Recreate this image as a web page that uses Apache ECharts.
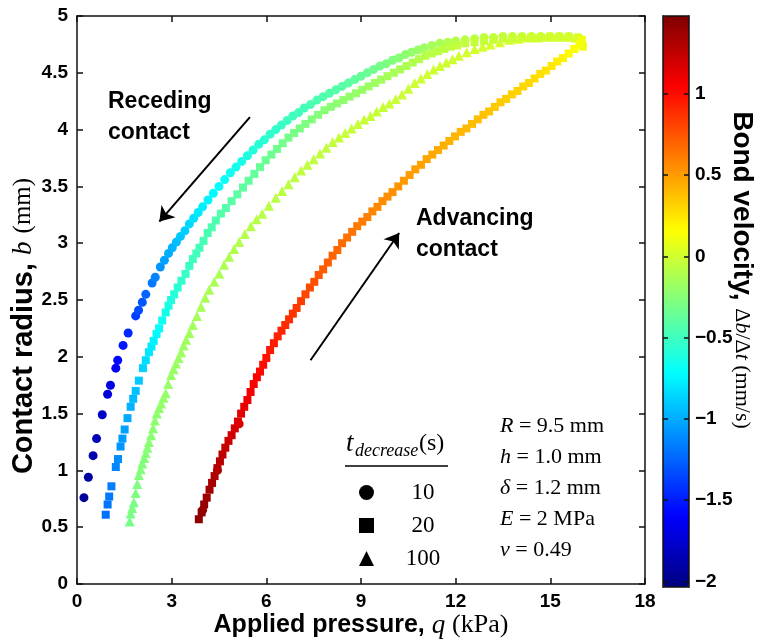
<!DOCTYPE html>
<html>
<head>
<meta charset="utf-8">
<title>Contact radius vs applied pressure</title>
<script src="https://cdn.jsdelivr.net/npm/echarts@6/dist/echarts.min.js"></script>
<style>
  html, body { margin: 0; padding: 0; background: #fff; }
  #chart { width: 762px; height: 644px; }
</style>
</head>
<body>
<div id="chart"></div>
<script>
// each point: [applied pressure q (kPa), contact radius b (mm), bond velocity (mm/s)]
const rec10 = [
  [0.22,0.76,-1.95],[0.36,0.94,-1.92],[0.51,1.13,-1.88],[0.62,1.28,-1.84],[0.80,1.49,-1.78],
  [0.97,1.67,-1.72],[1.06,1.75,-1.68],[1.23,1.90,-1.62],[1.29,1.97,-1.58],[1.46,2.10,-1.52],
  [1.62,2.21,-1.46],[1.86,2.36,-1.38],[1.95,2.41,-1.34],[2.07,2.48,-1.30],[2.18,2.55,-1.25],
  [2.38,2.65,-1.18],[2.48,2.70,-1.14],[2.64,2.79,-1.08],[2.77,2.85,-1.04],[2.90,2.91,-1.00],
  [3.02,2.96,-0.97],[3.15,3.01,-0.94],[3.28,3.06,-0.91],[3.42,3.11,-0.88],[3.56,3.17,-0.85],
  [3.70,3.22,-0.82],[3.84,3.27,-0.79],[3.98,3.32,-0.77],[4.15,3.38,-0.75],[4.32,3.44,-0.73],
  [4.50,3.50,-0.71],[4.68,3.56,-0.69],[4.86,3.62,-0.67],[5.04,3.67,-0.65],[5.22,3.72,-0.63],
  [5.40,3.77,-0.61],[5.58,3.82,-0.60],[5.76,3.87,-0.58],[5.94,3.91,-0.57],[6.12,3.96,-0.55],
  [6.30,4.00,-0.54],[6.48,4.04,-0.52],[6.66,4.08,-0.51],[6.84,4.12,-0.50],[7.02,4.15,-0.49],
  [7.20,4.19,-0.48],[7.40,4.22,-0.46],[7.60,4.26,-0.45],[7.80,4.29,-0.44],[8.00,4.32,-0.43],
  [8.20,4.35,-0.42],[8.40,4.38,-0.41],[8.60,4.41,-0.40],[8.80,4.44,-0.38],[9.00,4.47,-0.37],
  [9.20,4.50,-0.35],[9.40,4.53,-0.33],[9.60,4.56,-0.31],[9.80,4.58,-0.29],[10.00,4.61,-0.27],
  [10.20,4.63,-0.25],[10.40,4.66,-0.23],[10.60,4.68,-0.21],[10.80,4.70,-0.19],[11.00,4.72,-0.17],
  [11.25,4.74,-0.15],[11.50,4.76,-0.13],[11.75,4.77,-0.11],[12.00,4.78,-0.10],[12.30,4.79,-0.08],
  [12.60,4.80,-0.07],[12.90,4.81,-0.06],[13.20,4.81,-0.05],[13.50,4.82,-0.04],[13.80,4.82,-0.03],
  [14.10,4.82,-0.03],[14.40,4.82,-0.02],[14.70,4.82,-0.02],[15.00,4.82,-0.01],[15.30,4.82,-0.01],
  [15.60,4.82,0.00],[15.90,4.81,0.02]
];
const adv10 = [[3.98,0.65,1.42],[4.45,1.00,1.31],[5.14,1.41,1.17]];

const rec20 = [
  [0.91,0.61,-1.20],[0.97,0.70,-1.19],[1.02,0.77,-1.18],[1.09,0.86,-1.16],[1.23,1.03,-1.13],
  [1.30,1.10,-1.11],[1.38,1.21,-1.08],[1.44,1.28,-1.06],[1.51,1.36,-1.04],[1.60,1.46,-1.01],
  [1.70,1.56,-0.98],[1.78,1.63,-0.95],[1.86,1.70,-0.93],[1.96,1.79,-0.90],[2.09,1.90,-0.86],
  [2.18,1.97,-0.83],[2.28,2.04,-0.80],[2.36,2.09,-0.78],[2.43,2.14,-0.76],[2.52,2.20,-0.73],
  [2.60,2.25,-0.71],[2.70,2.32,-0.68],[2.81,2.39,-0.65],[2.90,2.45,-0.63],[2.98,2.50,-0.61],
  [3.08,2.55,-0.59],[3.19,2.61,-0.57],[3.31,2.67,-0.55],[3.44,2.73,-0.53],[3.56,2.80,-0.52],
  [3.67,2.86,-0.50],[3.78,2.91,-0.49],[3.88,2.96,-0.48],[4.01,3.02,-0.47],[4.14,3.09,-0.46],
  [4.27,3.14,-0.45],[4.40,3.20,-0.44],[4.56,3.26,-0.43],[4.72,3.31,-0.42],[4.90,3.37,-0.41],
  [5.08,3.43,-0.40],[5.26,3.49,-0.39],[5.44,3.55,-0.38],[5.62,3.61,-0.37],[5.80,3.67,-0.36],
  [5.98,3.73,-0.35],[6.16,3.78,-0.34],[6.34,3.83,-0.33],[6.52,3.88,-0.32],[6.70,3.93,-0.31],
  [6.88,3.97,-0.30],[7.06,4.01,-0.29],[7.24,4.05,-0.28],[7.44,4.09,-0.27],[7.64,4.13,-0.26],
  [7.84,4.17,-0.25],[8.04,4.20,-0.24],[8.24,4.23,-0.23],[8.44,4.26,-0.22],[8.64,4.29,-0.21],
  [8.84,4.32,-0.20],[9.04,4.35,-0.19],[9.24,4.38,-0.18],[9.44,4.41,-0.17],[9.64,4.44,-0.16],
  [9.84,4.47,-0.15],[10.04,4.50,-0.14],[10.24,4.53,-0.13],[10.44,4.56,-0.12],[10.64,4.59,-0.11],
  [10.84,4.62,-0.10],[11.04,4.65,-0.09],[11.24,4.67,-0.08],[11.44,4.69,-0.07],[11.64,4.71,-0.07],
  [11.84,4.73,-0.06],[12.04,4.74,-0.05],[12.30,4.76,-0.05],[12.60,4.77,-0.04],[12.90,4.78,-0.04],
  [13.20,4.79,-0.03],[13.50,4.80,-0.03],[13.80,4.80,-0.02],[14.10,4.81,-0.02],[14.40,4.81,-0.01],
  [14.70,4.81,-0.01],[15.00,4.81,0.00],[15.30,4.81,0.00],[15.60,4.81,0.01],[15.90,4.80,0.02]
];
const adv20 = [
  [3.86,0.57,1.43],[3.95,0.63,1.42],[4.03,0.70,1.40],[4.11,0.76,1.38],[4.20,0.83,1.36],
  [4.28,0.89,1.34],[4.36,0.95,1.32],[4.45,1.02,1.30],[4.53,1.08,1.28],[4.61,1.14,1.26],
  [4.70,1.20,1.24],[4.80,1.26,1.22],[4.90,1.31,1.20],[5.00,1.37,1.18],[5.10,1.43,1.16],
  [5.20,1.50,1.14],[5.30,1.56,1.12],[5.40,1.62,1.10],[5.50,1.69,1.08],[5.60,1.76,1.06],
  [5.70,1.82,1.04],[5.80,1.87,1.02],[5.90,1.93,1.00],[6.00,1.99,0.98],[6.12,2.06,0.96],
  [6.24,2.12,0.95],[6.36,2.18,0.93],[6.48,2.23,0.92],[6.60,2.28,0.90],[6.72,2.33,0.88],
  [6.84,2.38,0.87],[6.96,2.43,0.85],[7.10,2.49,0.83],[7.24,2.55,0.81],[7.38,2.61,0.79],
  [7.52,2.66,0.77],[7.66,2.72,0.75],[7.80,2.77,0.73],[7.95,2.83,0.72],[8.10,2.89,0.70],
  [8.25,2.94,0.68],[8.40,3.00,0.67],[8.56,3.05,0.65],[8.72,3.10,0.64],[8.88,3.15,0.62],
  [9.04,3.19,0.61],[9.20,3.23,0.60],[9.36,3.28,0.58],[9.52,3.32,0.57],[9.68,3.37,0.56],
  [9.84,3.41,0.55],[10.00,3.45,0.54],[10.18,3.50,0.53],[10.36,3.55,0.51],[10.54,3.60,0.50],
  [10.72,3.65,0.49],[10.90,3.69,0.48],[11.08,3.74,0.47],[11.26,3.78,0.46],[11.44,3.82,0.45],
  [11.62,3.86,0.44],[11.80,3.90,0.43],[11.98,3.94,0.42],[12.16,3.98,0.41],[12.34,4.01,0.40],
  [12.52,4.05,0.39],[12.70,4.09,0.38],[12.88,4.13,0.37],[13.06,4.16,0.36],[13.24,4.20,0.35],
  [13.42,4.24,0.34],[13.60,4.27,0.33],[13.78,4.31,0.32],[13.96,4.34,0.31],[14.14,4.38,0.30],
  [14.32,4.41,0.29],[14.50,4.45,0.28],[14.68,4.49,0.27],[14.86,4.52,0.26],[15.04,4.56,0.24],
  [15.22,4.60,0.22],[15.40,4.63,0.20],[15.58,4.67,0.18],[15.76,4.71,0.16],[15.92,4.75,0.14],
  [16.03,4.73,0.11],[16.00,4.79,0.12]
];

const rec100 = [
  [1.67,0.55,-0.30],[1.70,0.62,-0.30],[1.75,0.67,-0.29],[1.80,0.72,-0.29],[1.86,0.80,-0.28],
  [1.91,0.88,-0.28],[1.96,0.96,-0.27],[2.02,1.01,-0.27],[2.07,1.06,-0.26],[2.13,1.11,-0.26],
  [2.18,1.15,-0.25],[2.23,1.20,-0.25],[2.28,1.25,-0.24],[2.35,1.31,-0.24],[2.41,1.37,-0.23],
  [2.47,1.44,-0.23],[2.53,1.50,-0.22],[2.60,1.55,-0.22],[2.67,1.59,-0.21],[2.74,1.64,-0.21],
  [2.81,1.68,-0.20],[2.89,1.76,-0.20],[2.98,1.84,-0.19],[3.06,1.89,-0.19],[3.14,1.94,-0.18],
  [3.22,1.99,-0.18],[3.30,2.04,-0.17],[3.38,2.10,-0.17],[3.46,2.15,-0.16],[3.56,2.21,-0.16],
  [3.67,2.28,-0.15],[3.80,2.36,-0.15],[3.93,2.44,-0.14],[4.06,2.52,-0.14],[4.19,2.59,-0.13],
  [4.35,2.66,-0.13],[4.51,2.73,-0.12],[4.66,2.81,-0.12],[4.82,2.88,-0.11],[4.98,2.95,-0.11],
  [5.14,3.01,-0.10],[5.32,3.08,-0.10],[5.51,3.15,-0.09],[5.69,3.21,-0.09],[5.87,3.26,-0.08],
  [6.08,3.33,-0.08],[6.30,3.40,-0.08],[6.50,3.46,-0.07],[6.70,3.52,-0.07],[6.90,3.58,-0.07],
  [7.10,3.64,-0.06],[7.30,3.69,-0.06],[7.50,3.74,-0.06],[7.70,3.79,-0.05],[7.90,3.84,-0.05],
  [8.10,3.89,-0.05],[8.30,3.93,-0.04],[8.50,3.97,-0.04],[8.70,4.01,-0.04],[8.90,4.05,-0.04],
  [9.10,4.09,-0.03],[9.30,4.12,-0.03],[9.50,4.16,-0.03],[9.70,4.20,-0.03],[9.90,4.23,-0.02],
  [10.10,4.27,-0.02],[10.30,4.31,-0.02],[10.50,4.36,-0.02],[10.70,4.41,-0.01],[10.90,4.45,-0.01],
  [11.10,4.49,-0.01],[11.30,4.53,-0.01],[11.50,4.56,0.00],[11.70,4.59,0.00],[11.90,4.62,0.00],
  [12.10,4.65,0.00],[12.35,4.68,0.01],[12.60,4.71,0.01],[12.85,4.73,0.01],[13.10,4.75,0.02],
  [13.40,4.77,0.02],[13.70,4.79,0.02],[14.00,4.80,0.03],[14.30,4.81,0.03],[14.60,4.81,0.03],
  [14.90,4.82,0.04],[15.20,4.82,0.04],[15.50,4.82,0.05],[15.80,4.81,0.05],[16.00,4.80,0.06]
];

const xTicks = [0, 3, 6, 9, 12, 15, 18];
const yTicks = [0, 0.5, 1, 1.5, 2, 2.5, 3, 3.5, 4, 4.5, 5];
const cbTicks = [-2, -1.5, -1, -0.5, 0, 0.5, 1];
const cbRange = [-2.035, 1.48];
const legendNames = ['10', '20', '100'];
const recedingArrow = [[5.48, 4.11], [2.61, 3.19]];
const advancingArrow = [[7.40, 1.97], [10.21, 3.09]];
const paramLines = [
  '{i|R} = 9.5 mm',
  '{i|h} = 1.0 mm',
  '{i|δ} = 1.2 mm',
  '{i|E} = 2 MPa',
  '{i|ν} = 0.49'
];

const jet = ['#00007f', '#0000ff', '#007fff', '#00ffff', '#7fff7f', '#ffff00', '#ff7f00', '#ff0000', '#7f0000'];
const SANS = 'Liberation Sans';
const SERIF = 'Liberation Serif';
const AX = { onZero: false, lineStyle: { color: '#111', width: 1.5 } };

const chart = echarts.init(document.getElementById('chart'));

const option = {
  animation: false,
  backgroundColor: '#fff',
  grid: [
    { left: 77, right: 117, top: 16, bottom: 60, containLabel: false, outerBoundsMode: 'none' },
    { left: 663, top: 16, width: 26, height: 571, containLabel: false, outerBoundsMode: 'none' }
  ],
  xAxis: [
    {
      gridIndex: 0, type: 'value', position: 'bottom',
      min: xTicks[0], max: xTicks[xTicks.length - 1], interval: xTicks[1] - xTicks[0],
      axisLine: AX, splitLine: { show: false },
      axisTick: { inside: true, length: 6, lineStyle: { color: '#111', width: 1.5 } },
      axisLabel: { fontFamily: SANS, fontWeight: 'bold', fontSize: 19, color: '#000', margin: 8 },
      name: 'Applied pressure, {i|q} {r|(kPa)}',
      nameLocation: 'middle', nameGap: 28, nameMoveOverlap: false,
      nameTextStyle: {
        fontFamily: SANS, fontWeight: 'bold', fontSize: 25, color: '#000',
        rich: {
          i: { fontFamily: SERIF, fontStyle: 'italic', fontWeight: 'normal', fontSize: 27, color: '#000' },
          r: { fontFamily: SERIF, fontWeight: 'normal', fontSize: 26, color: '#000' }
        }
      }
    },
    {
      gridIndex: 0, type: 'value', position: 'top',
      min: xTicks[0], max: xTicks[xTicks.length - 1], interval: xTicks[1] - xTicks[0],
      axisLine: AX, splitLine: { show: false },
      axisTick: { inside: true, length: 6, lineStyle: { color: '#111', width: 1.5 } },
      axisLabel: { show: false }
    },
    {
      gridIndex: 1, type: 'value', position: 'bottom', min: 0, max: 1, z: 10,
      axisLine: AX, axisTick: { show: false }, axisLabel: { show: false }, splitLine: { show: false }
    },
    {
      gridIndex: 1, type: 'value', position: 'top', min: 0, max: 1, z: 10,
      axisLine: AX, axisTick: { show: false }, axisLabel: { show: false }, splitLine: { show: false }
    }
  ],
  yAxis: [
    {
      gridIndex: 0, type: 'value', position: 'left',
      min: yTicks[0], max: yTicks[yTicks.length - 1], interval: yTicks[1] - yTicks[0],
      axisLine: AX, splitLine: { show: false },
      axisTick: { inside: true, length: 6, lineStyle: { color: '#111', width: 1.5 } },
      axisLabel: { fontFamily: SANS, fontWeight: 'bold', fontSize: 19, color: '#000', margin: 9 },
      name: 'Contact radius, {i|b} {r|(mm)}',
      nameLocation: 'middle', nameGap: 39, nameRotate: 90, nameMoveOverlap: false,
      nameTextStyle: {
        fontFamily: SANS, fontWeight: 'bold', fontSize: 29, color: '#000',
        padding: [0, 52, 0, 0],
        rich: {
          i: { fontFamily: SERIF, fontStyle: 'italic', fontWeight: 'normal', fontSize: 27, color: '#000' },
          r: { fontFamily: SERIF, fontWeight: 'normal', fontSize: 25, color: '#000' }
        }
      }
    },
    {
      gridIndex: 0, type: 'value', position: 'right',
      min: yTicks[0], max: yTicks[yTicks.length - 1], interval: yTicks[1] - yTicks[0],
      axisLine: AX, splitLine: { show: false },
      axisTick: { inside: true, length: 6, lineStyle: { color: '#111', width: 1.5 } },
      axisLabel: { show: false }
    },
    {
      gridIndex: 1, type: 'value', position: 'right', min: cbRange[0], max: cbRange[1], z: 10,
      axisLine: AX, splitLine: { show: false },
      axisTick: { inside: true, length: 5, customValues: cbTicks, lineStyle: { color: '#111', width: 1.5 } },
      axisLabel: {
        customValues: cbTicks, margin: 6,
        fontFamily: SANS, fontWeight: 'bold', fontSize: 19, color: '#000',
        formatter: v => String(v).replace('-', '\u2212')
      }
    },
    {
      gridIndex: 1, type: 'value', position: 'left', min: cbRange[0], max: cbRange[1], z: 10,
      axisLine: AX, splitLine: { show: false },
      axisTick: { inside: true, length: 5, customValues: cbTicks, lineStyle: { color: '#111', width: 1.5 } },
      axisLabel: { show: false }
    }
  ],
  visualMap: {
    type: 'continuous',
    min: cbRange[0], max: cbRange[1],
    dimension: 2,
    seriesIndex: [0, 1, 2],
    inRange: { color: jet },
    calculable: false, hoverLink: false,
    text: null, showLabel: false,
    left: 663, top: 16, padding: 0,
    itemWidth: 26, itemHeight: 571
  },
  legend: {
    orient: 'vertical', left: 354, top: 476,
    itemWidth: 15, itemHeight: 15, itemGap: 10,
    selectedMode: false,
    data: [
      { name: legendNames[0], icon: 'circle', itemStyle: { color: '#000' } },
      { name: legendNames[1], icon: 'rect', itemStyle: { color: '#000' } },
      { name: legendNames[2], icon: 'triangle', itemStyle: { color: '#000' } }
    ],
    formatter: '{a|{name}}',
    textStyle: {
      rich: { a: { fontFamily: SERIF, fontSize: 23, lineHeight: 22, color: '#000', width: 88, align: 'center' } }
    }
  },
  graphic: [
    {
      type: 'text', left: 108, top: 86,
      style: { text: 'Receding\ncontact', font: 'bold 23px "Liberation Sans"', lineHeight: 31, fill: '#000' }
    },
    {
      type: 'text', left: 416, top: 203,
      style: { text: 'Advancing\ncontact', font: 'bold 23px "Liberation Sans"', lineHeight: 31, fill: '#000' }
    },
    {
      type: 'text', left: 500, top: 411,
      style: {
        text: paramLines.join('\n'),
        font: '22px "Liberation Serif"', lineHeight: 31, fill: '#000',
        rich: {
          i: { fontFamily: SERIF, fontStyle: 'italic', fontSize: 22, lineHeight: 31, fill: '#000' }
        }
      }
    },
    {
      type: 'text', left: 346, top: 430,
      style: { text: 't', font: 'italic 27px "Liberation Serif"', fill: '#000' }
    },
    {
      type: 'text', left: 355, top: 442,
      style: { text: 'decrease', font: 'italic 18px "Liberation Serif"', fill: '#000' }
    },
    {
      type: 'text', left: 419, top: 432,
      style: { text: '(s)', font: '24px "Liberation Serif"', fill: '#000' }
    },
    {
      type: 'line',
      shape: { x1: 345, y1: 466, x2: 448, y2: 466 },
      style: { stroke: '#000', lineWidth: 1.5 }
    },
    {
      type: 'text', x: 742, y: 270, rotation: -Math.PI / 2,
      style: {
        text: 'Bond velocity, {r|Δ}{i|b}{r|/Δ}{i|t}{r| (mm/s)}',
        font: 'bold 28px "Liberation Sans"', fill: '#000',
        align: 'center', verticalAlign: 'middle',
        textAlign: 'center', textVerticalAlign: 'middle',
        rich: {
          i: { fontFamily: SERIF, fontStyle: 'italic', fontWeight: 'normal', fontSize: 22, fill: '#000' },
          r: { fontFamily: SERIF, fontWeight: 'normal', fontSize: 22, fill: '#000' }
        }
      }
    }
  ],
  series: [
    {
      name: legendNames[0], type: 'scatter', symbol: 'circle', symbolSize: 9,
      itemStyle: { opacity: 1 }, data: rec10.concat(adv10)
    },
    {
      name: legendNames[2], type: 'scatter', symbol: 'triangle', symbolSize: 10,
      itemStyle: { opacity: 1 }, data: rec100
    },
    {
      name: legendNames[1], type: 'scatter', symbol: 'rect', symbolSize: 8,
      itemStyle: { opacity: 1 }, data: rec20.concat(adv20)
    },
    {
      name: 'arrows', type: 'scatter', data: [],
      markLine: {
        silent: true, symbol: ['none', 'arrow'], symbolSize: 14,
        lineStyle: { color: '#000', width: 2, type: 'solid' },
        label: { show: false },
        data: [
          [{ coord: recedingArrow[0] }, { coord: recedingArrow[1] }],
          [{ coord: advancingArrow[0] }, { coord: advancingArrow[1] }]
        ]
      }
    }
  ]
};

chart.setOption(option);
</script>
</body>
</html>
